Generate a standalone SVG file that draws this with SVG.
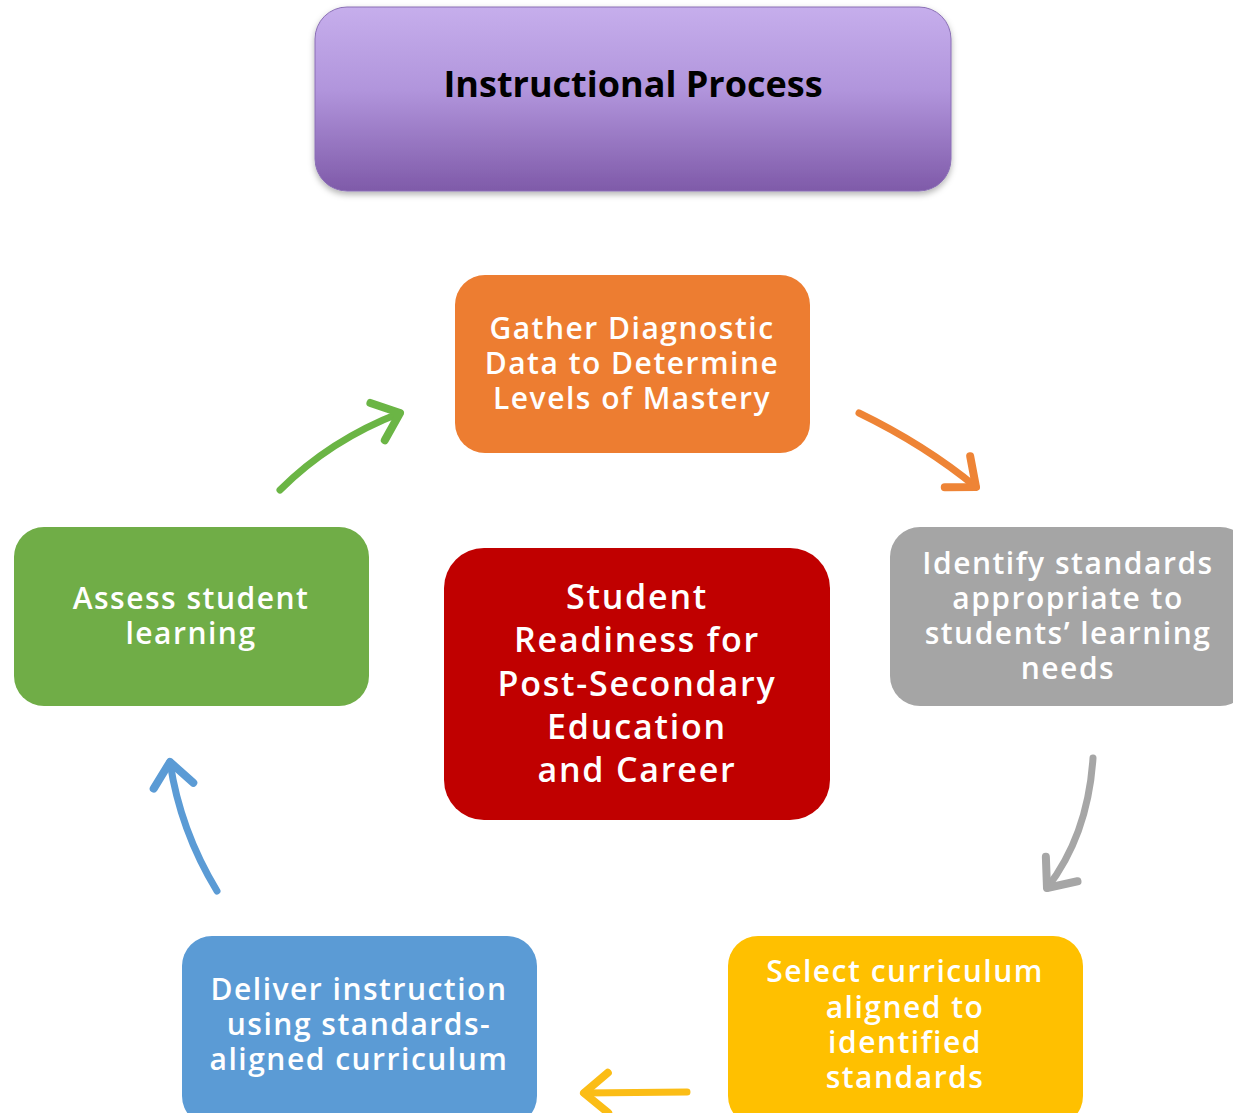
<svg xmlns="http://www.w3.org/2000/svg" width="1233" height="1113" viewBox="0 0 1233 1113">
<defs>
<linearGradient id="gTitle" x1="0" y1="0" x2="0" y2="1">
<stop offset="0" stop-color="#c6aeec"/>
<stop offset="0.45" stop-color="#b195dc"/>
<stop offset="1" stop-color="#7f5aa9"/>
</linearGradient>
<filter id="sh" x="-10%" y="-10%" width="120%" height="130%">
<feDropShadow dx="0" dy="3" stdDeviation="3" flood-color="#000" flood-opacity="0.3"/>
</filter>
<marker id="mGreen" markerUnits="userSpaceOnUse" viewBox="-30 -25 40 50" markerWidth="40" markerHeight="50" refX="0" refY="0" orient="auto"><polyline points="-24,-20 0,0 -24,20" fill="none" stroke="#6bb545" stroke-width="8" stroke-linecap="round" stroke-linejoin="round"/></marker>
<marker id="mOrange" markerUnits="userSpaceOnUse" viewBox="-30 -25 40 50" markerWidth="40" markerHeight="50" refX="0" refY="0" orient="auto"><polyline points="-24,-20 0,0 -24,20" fill="none" stroke="#ee8436" stroke-width="8" stroke-linecap="round" stroke-linejoin="round"/></marker>
<marker id="mGray" markerUnits="userSpaceOnUse" viewBox="-30 -25 40 50" markerWidth="40" markerHeight="50" refX="0" refY="0" orient="auto"><polyline points="-24,-20 0,0 -24,20" fill="none" stroke="#a6a6a6" stroke-width="8" stroke-linecap="round" stroke-linejoin="round"/></marker>
<marker id="mYellow" markerUnits="userSpaceOnUse" viewBox="-30 -25 40 50" markerWidth="40" markerHeight="50" refX="0" refY="0" orient="auto"><polyline points="-24,-20 0,0 -24,20" fill="none" stroke="#fbbd16" stroke-width="8" stroke-linecap="round" stroke-linejoin="round"/></marker>
<marker id="mBlue" markerUnits="userSpaceOnUse" viewBox="-30 -25 40 50" markerWidth="40" markerHeight="50" refX="0" refY="0" orient="auto"><polyline points="-24,-20 0,0 -24,20" fill="none" stroke="#5b9bd5" stroke-width="8" stroke-linecap="round" stroke-linejoin="round"/></marker>
</defs>
<style>
.t{font-family:"Open Sans","Liberation Sans",sans-serif;fill:#ffffff;text-anchor:middle;font-size:30px;font-weight:600;letter-spacing:1.5px}
.big{font-size:34px;letter-spacing:1.8px}
.title{font-family:"Open Sans","Liberation Sans",sans-serif;font-weight:700;font-size:36px;fill:#000;text-anchor:middle}
.arr{fill:none;stroke-width:7;stroke-linecap:round}
</style>
<rect width="1233" height="1113" fill="#ffffff"/>
<g id="title">
<rect x="315" y="7" width="636" height="184" rx="32" fill="url(#gTitle)" stroke="#8a6fb5" stroke-width="1" filter="url(#sh)"/>
<text class="title" x="633" y="97">Instructional Process</text>
</g>
<g id="gather">
<rect x="455" y="275" width="355" height="178" rx="30" fill="#ed7d31"/>
<text class="t" x="632" y="339">Gather Diagnostic</text>
<text class="t" x="632" y="374">Data to Determine</text>
<text class="t" x="632" y="409">Levels of Mastery</text>
</g>
<g id="identify">
<rect x="890" y="527" width="360" height="179" rx="30" fill="#a5a5a5"/>
<text class="t" x="1068" y="574">Identify standards</text>
<text class="t" x="1068" y="609">appropriate to</text>
<text class="t" x="1068" y="644">students’ learning</text>
<text class="t" x="1068" y="679">needs</text>
</g>
<g id="select">
<rect x="728" y="936" width="355" height="190" rx="30" fill="#ffc000"/>
<text class="t" x="905" y="982">Select curriculum</text>
<text class="t" x="905" y="1018">aligned to</text>
<text class="t" x="905" y="1053">identified</text>
<text class="t" x="905" y="1088">standards</text>
</g>
<g id="deliver">
<rect x="182" y="936" width="355" height="190" rx="30" fill="#5b9bd5"/>
<text class="t" x="359" y="1000">Deliver instruction</text>
<text class="t" x="359" y="1035">using standards-</text>
<text class="t" x="359" y="1070">aligned curriculum</text>
</g>
<g id="assess">
<rect x="14" y="527" width="355" height="179" rx="30" fill="#70ad47"/>
<text class="t" x="191" y="609">Assess student</text>
<text class="t" x="191" y="644">learning</text>
</g>
<g id="center">
<rect x="444" y="548" width="386" height="272" rx="40" fill="#c00000"/>
<text class="t big" x="637" y="609">Student</text>
<text class="t big" x="637" y="652">Readiness for</text>
<text class="t big" x="637" y="696">Post-Secondary</text>
<text class="t big" x="637" y="739">Education</text>
<text class="t big" x="637" y="782">and Career</text>
</g>
<g id="connectors">
<path class="arr" stroke="#6bb545" d="M280,490 Q330,440 400,413" marker-end="url(#mGreen)"/>
<path class="arr" stroke="#ee8436" d="M859,413 Q925,445 976,487" marker-end="url(#mOrange)"/>
<path class="arr" stroke="#a6a6a6" d="M1093,758 Q1088,835 1047,888" marker-end="url(#mGray)"/>
<path class="arr" stroke="#fbbd16" d="M687,1092 L584,1093" marker-end="url(#mYellow)"/>
<path class="arr" stroke="#5b9bd5" d="M217,891 Q180,830 170,762" marker-end="url(#mBlue)"/>
</g>
</svg>
